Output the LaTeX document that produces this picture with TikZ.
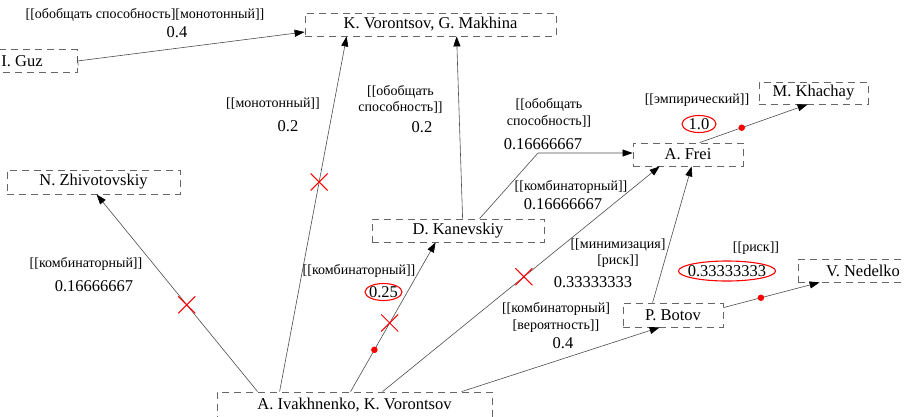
\documentclass[tikz,border=0pt]{standalone}
\usepackage{fontspec}
\setmainfont{Liberation Serif}
\usetikzlibrary{arrows.meta,shapes.misc,shapes.geometric}
\tikzset{
 box/.style={draw=black!60, dash pattern=on 7pt off 5pt, line width=0.8pt, inner sep=0pt, font=\fontsize{16.5}{18}\selectfont},
 lbl/.style={font=\fontsize{14}{16.5}\selectfont, align=center, inner sep=0pt},
 num/.style={font=\fontsize{16.5}{18}\selectfont, inner sep=0pt},
 ed/.style={draw=black!70, line width=0.6pt, -{Triangle[length=10pt,width=7pt,color=black]}},
 redx/.style={cross out, draw=red, line width=1pt, minimum size=16pt, inner sep=0pt},
 reddot/.style={circle, fill=red, minimum size=6.5pt, inner sep=0pt},
 redell/.style={draw=red, line width=1.1pt}
}
\begin{document}
\begin{tikzpicture}[x=1pt,y=-1pt]
\useasboundingbox (0,0) rectangle (905,416);
\clip (0,0) rectangle (905,416);
% nodes
\node[box, minimum width=251pt, minimum height=23pt] (kvgm) at (430.5,24.5) {K. Vorontsov, G. Makhina};
\node[box, minimum width=110pt, minimum height=23pt] (guz) at (22,61) {I. Guz};
\node[box, minimum width=109pt, minimum height=22pt] (khachay) at (813.5,93) {M. Khachay};
\node[box, minimum width=110pt, minimum height=23pt] (frei) at (688,154.5) {A. Frei};
\node[box, minimum width=173pt, minimum height=24pt] (nz) at (93.5,182) {N. Zhivotovskiy};
\node[box, minimum width=172pt, minimum height=23pt] (dk) at (458,230.5) {D. Kanevskiy};
\node[box, minimum width=130pt, minimum height=23pt] (nedelko) at (863,270.5) {V. Nedelko};
\node[box, minimum width=100pt, minimum height=24pt] (botov) at (673,315) {P. Botov};
\node[box, minimum width=275pt, minimum height=26pt] (aikv) at (354.5,405) {A. Ivakhnenko, K. Vorontsov};
\coordinate (bend4) at (538,153);
% edges
\draw[draw=black!70, line width=0.6pt, {Bar[width=9pt,color=black!70]}-{Triangle[length=10pt,width=7pt,color=black]}] (guz.east) -- ([yshift=-7.5pt]kvgm.west);
\draw[ed] ([xshift=63pt]aikv.north west) -- node[redx, pos=0.59]{} ([xshift=42pt]kvgm.south west);
\draw[ed] ([xshift=91pt]dk.north west) -- ([xshift=152pt]kvgm.south west);
\draw[ed] ([xshift=108pt]dk.north west) -- (bend4) -- (bend4 -| frei.west);
\draw[ed] ([xshift=166pt]aikv.north west) -- node[redx, pos=0.51]{} ([xshift=27pt]frei.south west);
\draw[ed] ([xshift=30pt]botov.north west) -- ([xshift=59pt]frei.south west);
\draw[ed] ([xshift=67pt]frei.north west) -- node[reddot, pos=0.39]{} ([xshift=49pt]khachay.south west);
\draw[ed] ([xshift=41pt]aikv.north west) -- node[redx, pos=0.44]{} ([xshift=90pt]nz.south west);
\draw[ed] ([xshift=134pt]aikv.north west) -- node[reddot, pos=0.28]{} node[redx, pos=0.46]{} ([xshift=64pt]dk.south west);
\draw[ed] ([xshift=245pt]aikv.north west) -- ([xshift=37pt]botov.south west);
\draw[ed] ([yshift=-5pt]botov.north east) -- node[reddot, pos=0.39]{} ([xshift=22pt]nedelko.south west);
% labels
\node[lbl] (l1) at (145,15) {[[обобщать способность][монотонный]]};
\node[num] (n1) at (177,32) {0.4};
\node[lbl] (l2) at (273,104) {[[монотонный]]};
\node[num] (n2) at (288,126) {0.2};
\node[lbl] (l3) at (400.5,99.5) {[[обобщать\\способность]]};
\node[num] (n3) at (422,127) {0.2};
\node[lbl] (l4) at (549,113) {[[обобщать\\способность]]};
\node[num] (n4) at (543,144) {0.16666667};
\node[lbl] (l5) at (571,187) {[[комбинаторный]]};
\node[num] (n5) at (563,204) {0.16666667};
\node[lbl] (l6) at (618,253) {[[минимизация]\\{}[риск]]};
\node[num] (n6) at (593,282) {0.33333333};
\node[lbl] (l7) at (697,100) {[[эмпирический]]};
\node[num] (n7) at (699,124) {1.0};
\node[lbl] (l8) at (86,264) {[[комбинаторный]]};
\node[num] (n8) at (94,286) {0.16666667};
\node[lbl] (l9) at (359,271) {[[комбинаторный]]};
\node[num] (n9) at (383.5,292) {0.25};
\node[lbl] (l10) at (556,317.5) {[[комбинаторный]\\{}[вероятность]]};
\node[num] (n10) at (563,343) {0.4};
\node[lbl] (l11) at (756,248) {[[риск]]};
\node[num] (n11) at (727,271) {0.33333333};
% red ellipses
\draw[redell] (n7) ellipse [x radius=17pt, y radius=8.5pt];
\draw[redell] (n9) ellipse [x radius=18.5pt, y radius=8.5pt];
\draw[redell] (n11) ellipse [x radius=48.5pt, y radius=10pt];
\end{tikzpicture}
\end{document}
